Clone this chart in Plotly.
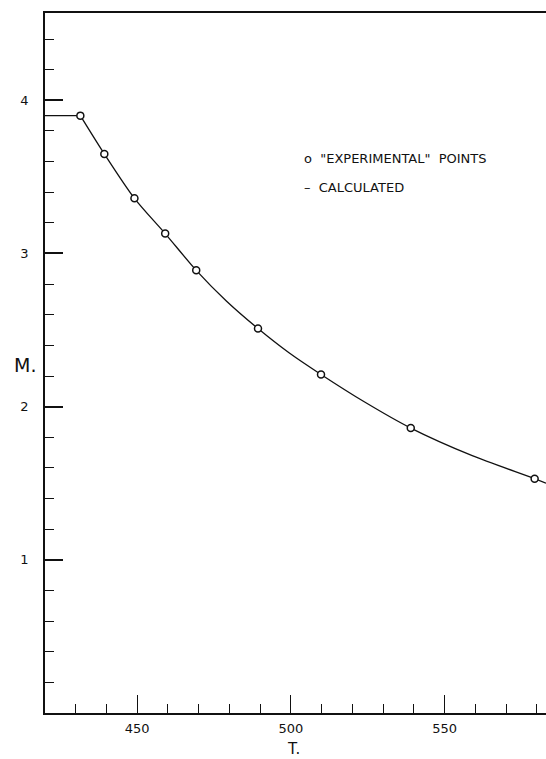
import plotly.graph_objects as go

T_exp = [431.5, 439.3, 449.1, 459.1, 469.2, 489.3, 509.8, 539.0, 579.3]
M_exp = [3.90, 3.65, 3.36, 3.13, 2.89, 2.51, 2.21, 1.86, 1.53]

# Calculated curve
T_flat = [420.0, 431.5]
M_flat = [3.90, 3.90]
T_calc = [431.5, 439.3, 449.1, 459.1, 469.2, 479.0, 489.3, 499.5, 509.8, 524.0, 539.0, 559.0, 579.3, 583.0]
M_calc = [3.90, 3.65, 3.36, 3.13, 2.89, 2.69, 2.51, 2.35, 2.21, 2.03, 1.86, 1.68, 1.53, 1.50]

x_ticks = [450, 500, 550]
y_ticks = [1, 2, 3, 4]
y_tick_text = ["1", "2", "3", "4"]

FONT = "DejaVu Sans"
INK = "#111111"

fig = go.Figure()
fig.add_trace(go.Scatter(x=T_flat, y=M_flat, mode="lines",
                         line=dict(color=INK, width=1.4), showlegend=False))
fig.add_trace(go.Scatter(x=T_calc, y=M_calc, mode="lines",
                         line=dict(color=INK, width=1.3, shape="spline", smoothing=0.8),
                         showlegend=False))
fig.add_trace(go.Scatter(x=T_exp, y=M_exp, mode="markers",
                         marker=dict(symbol="circle", size=7, color="white",
                                     line=dict(color=INK, width=1.5)),
                         showlegend=False))

fig.update_layout(
    width=546, height=759,
    margin=dict(l=45, r=0, t=13, b=46),
    paper_bgcolor="white", plot_bgcolor="white",
    font=dict(family=FONT, color=INK, size=12),
    xaxis=dict(range=[420, 583], tickvals=x_ticks, ticktext=[str(v) for v in x_ticks],
               ticks="inside", ticklen=18, tickwidth=1.3, tickcolor=INK,
               showline=True, linecolor=INK, linewidth=1.5, mirror=True,
               showgrid=False, zeroline=False, ticklabelstandoff=3,
               tickfont=dict(size=13, family=FONT),
               minor=dict(dtick=10, tick0=420, ticks="inside", ticklen=9,
                          tickwidth=1.2, tickcolor=INK, showgrid=False)),
    yaxis=dict(range=[0, 4.57], tickvals=y_ticks, ticktext=y_tick_text,
               ticks="inside", ticklen=18, tickwidth=1.5, tickcolor=INK,
               showline=True, linecolor=INK, linewidth=1.5, mirror=False,
               showgrid=False, zeroline=False, ticklabelstandoff=12,
               tickfont=dict(size=13, family=FONT),
               minor=dict(dtick=0.2, tick0=0, ticks="inside", ticklen=9,
                          tickwidth=1.3, tickcolor=INK, showgrid=False)),
)

fig.add_annotation(xref="paper", yref="paper", x=(293 - 45) / 501, y=-(749 - 713) / 700,
                   text="T.", showarrow=False, font=dict(size=15, family=FONT),
                   xanchor="center", yanchor="middle")
fig.add_annotation(xref="paper", yref="paper", x=-(45 - 25) / 501, y=(713 - 365) / 700,
                   text="M.", showarrow=False, font=dict(size=19, family=FONT),
                   xanchor="center", yanchor="middle")
fig.add_annotation(xref="paper", yref="paper", x=(302 - 45) / 501, y=(713 - 159) / 700,
                   text="o  \"EXPERIMENTAL\"  POINTS", showarrow=False,
                   font=dict(size=13, family=FONT), xanchor="left", yanchor="middle")
fig.add_annotation(xref="paper", yref="paper", x=(302 - 45) / 501, y=(713 - 187) / 700,
                   text="\u2013  CALCULATED", showarrow=False,
                   font=dict(size=13, family=FONT), xanchor="left", yanchor="middle")

fig.write_html("out.html", config={"displayModeBar": False},
               post_script="document.body.style.margin='0';document.body.style.overflow='hidden';")
